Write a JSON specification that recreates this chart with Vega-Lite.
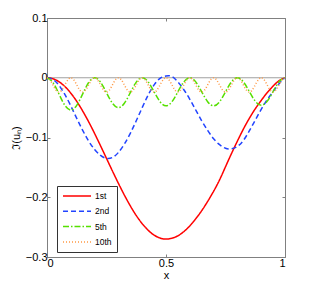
{
 "$schema": "https://vega.github.io/schema/vega-lite/v6.json",
 "width": 238, "height": 239,
 "autosize": {"type": "none"},
 "padding": {"left": 47, "top": 18, "right": 29, "bottom": 29},
 "config": {
  "view": {"stroke": "#808080", "strokeWidth": 1},
  "font": "Liberation Sans",
  "axis": {"domain": false, "grid": false, "tickColor": "#808080", "labelFont": "Liberation Sans", "labelFontSize": 11, "labelColor": "#000", "titleFont": "Liberation Sans", "titleFontSize": 11, "titleFontWeight": "normal", "titleColor": "#000"},
  "legend": {"orient": "none", "legendX": 10, "legendY": 168, "padding": 5, "strokeColor": "#333", "fillColor": "#fff", "symbolType": "M-3.5,0H3.5", "symbolSize": 64, "symbolStrokeWidth": 1.5, "symbolOffset": 10, "labelOffset": 13, "labelFont": "Liberation Sans", "labelFontSize": 8.5, "labelColor": "#000", "rowPadding": 5.3}
 },
 "datasets": {
  "zero": [{"x0": 0, "x1": 1, "y": 0}],
  "curves": [
   {"mode":"1st","x":0,"y":0},{"mode":"1st","x":0.025,"y":-0.0017},{"mode":"1st","x":0.05,"y":-0.0066},{"mode":"1st","x":0.075,"y":-0.0147},{"mode":"1st","x":0.1,"y":-0.0258},{"mode":"1st","x":0.125,"y":-0.0395},{"mode":"1st","x":0.15,"y":-0.0557},{"mode":"1st","x":0.175,"y":-0.0737},{"mode":"1st","x":0.2,"y":-0.0933},{"mode":"1st","x":0.225,"y":-0.1139},{"mode":"1st","x":0.25,"y":-0.135},{"mode":"1st","x":0.275,"y":-0.1561},{"mode":"1st","x":0.3,"y":-0.1767},{"mode":"1st","x":0.325,"y":-0.1963},{"mode":"1st","x":0.35,"y":-0.2144},{"mode":"1st","x":0.375,"y":-0.2305},{"mode":"1st","x":0.4,"y":-0.2442},{"mode":"1st","x":0.425,"y":-0.2553},{"mode":"1st","x":0.45,"y":-0.2634},{"mode":"1st","x":0.475,"y":-0.2683},{"mode":"1st","x":0.5,"y":-0.27},{"mode":"1st","x":0.525,"y":-0.2685},{"mode":"1st","x":0.55,"y":-0.2645},{"mode":"1st","x":0.575,"y":-0.2575},{"mode":"1st","x":0.6,"y":-0.248},{"mode":"1st","x":0.625,"y":-0.236},{"mode":"1st","x":0.65,"y":-0.2225},{"mode":"1st","x":0.675,"y":-0.207},{"mode":"1st","x":0.7,"y":-0.19},{"mode":"1st","x":0.725,"y":-0.171},{"mode":"1st","x":0.75,"y":-0.149},{"mode":"1st","x":0.775,"y":-0.127},{"mode":"1st","x":0.8,"y":-0.106},{"mode":"1st","x":0.825,"y":-0.086},{"mode":"1st","x":0.85,"y":-0.068},{"mode":"1st","x":0.875,"y":-0.052},{"mode":"1st","x":0.9,"y":-0.038},{"mode":"1st","x":0.925,"y":-0.025},{"mode":"1st","x":0.95,"y":-0.014},{"mode":"1st","x":0.975,"y":-0.005},{"mode":"1st","x":1,"y":0},
   {"mode":"2nd","x":0,"y":0},{"mode":"2nd","x":0.025,"y":-0.003},{"mode":"2nd","x":0.05,"y":-0.0125},{"mode":"2nd","x":0.075,"y":-0.028},{"mode":"2nd","x":0.1,"y":-0.047},{"mode":"2nd","x":0.125,"y":-0.068},{"mode":"2nd","x":0.15,"y":-0.088},{"mode":"2nd","x":0.175,"y":-0.106},{"mode":"2nd","x":0.2,"y":-0.12},{"mode":"2nd","x":0.225,"y":-0.13},{"mode":"2nd","x":0.25,"y":-0.135},{"mode":"2nd","x":0.275,"y":-0.1335},{"mode":"2nd","x":0.3,"y":-0.125},{"mode":"2nd","x":0.325,"y":-0.111},{"mode":"2nd","x":0.35,"y":-0.093},{"mode":"2nd","x":0.375,"y":-0.072},{"mode":"2nd","x":0.4,"y":-0.05},{"mode":"2nd","x":0.425,"y":-0.029},{"mode":"2nd","x":0.45,"y":-0.012},{"mode":"2nd","x":0.475,"y":-0.001},{"mode":"2nd","x":0.5,"y":0.003},{"mode":"2nd","x":0.525,"y":0.002},{"mode":"2nd","x":0.55,"y":-0.007},{"mode":"2nd","x":0.575,"y":-0.02},{"mode":"2nd","x":0.6,"y":-0.036},{"mode":"2nd","x":0.625,"y":-0.054},{"mode":"2nd","x":0.65,"y":-0.072},{"mode":"2nd","x":0.675,"y":-0.088},{"mode":"2nd","x":0.7,"y":-0.102},{"mode":"2nd","x":0.725,"y":-0.112},{"mode":"2nd","x":0.75,"y":-0.118},{"mode":"2nd","x":0.775,"y":-0.119},{"mode":"2nd","x":0.8,"y":-0.115},{"mode":"2nd","x":0.825,"y":-0.105},{"mode":"2nd","x":0.85,"y":-0.089},{"mode":"2nd","x":0.875,"y":-0.071},{"mode":"2nd","x":0.9,"y":-0.053},{"mode":"2nd","x":0.925,"y":-0.037},{"mode":"2nd","x":0.95,"y":-0.023},{"mode":"2nd","x":0.975,"y":-0.01},{"mode":"2nd","x":1,"y":0},
   {"mode":"5th","x":0,"y":0},{"mode":"5th","x":0.025,"y":-0.0079},{"mode":"5th","x":0.05,"y":-0.027},{"mode":"5th","x":0.075,"y":-0.0461},{"mode":"5th","x":0.1,"y":-0.054},{"mode":"5th","x":0.125,"y":-0.0461},{"mode":"5th","x":0.15,"y":-0.027},{"mode":"5th","x":0.175,"y":-0.0079},{"mode":"5th","x":0.2,"y":0},{"mode":"5th","x":0.225,"y":-0.0073},{"mode":"5th","x":0.25,"y":-0.025},{"mode":"5th","x":0.275,"y":-0.0427},{"mode":"5th","x":0.3,"y":-0.05},{"mode":"5th","x":0.325,"y":-0.0427},{"mode":"5th","x":0.35,"y":-0.025},{"mode":"5th","x":0.375,"y":-0.0073},{"mode":"5th","x":0.4,"y":0},{"mode":"5th","x":0.425,"y":-0.0069},{"mode":"5th","x":0.45,"y":-0.0235},{"mode":"5th","x":0.475,"y":-0.0401},{"mode":"5th","x":0.5,"y":-0.047},{"mode":"5th","x":0.525,"y":-0.0401},{"mode":"5th","x":0.55,"y":-0.0235},{"mode":"5th","x":0.575,"y":-0.0069},{"mode":"5th","x":0.6,"y":0},{"mode":"5th","x":0.625,"y":-0.0069},{"mode":"5th","x":0.65,"y":-0.0235},{"mode":"5th","x":0.675,"y":-0.0401},{"mode":"5th","x":0.7,"y":-0.047},{"mode":"5th","x":0.725,"y":-0.0401},{"mode":"5th","x":0.75,"y":-0.0235},{"mode":"5th","x":0.775,"y":-0.0069},{"mode":"5th","x":0.8,"y":0},{"mode":"5th","x":0.825,"y":-0.0067},{"mode":"5th","x":0.85,"y":-0.023},{"mode":"5th","x":0.875,"y":-0.0393},{"mode":"5th","x":0.9,"y":-0.046},{"mode":"5th","x":0.925,"y":-0.0393},{"mode":"5th","x":0.95,"y":-0.023},{"mode":"5th","x":0.975,"y":-0.0067},{"mode":"5th","x":1,"y":0},
   {"mode":"10th","x":0,"y":0},{"mode":"10th","x":0.01,"y":-0.0023},{"mode":"10th","x":0.02,"y":-0.0083},{"mode":"10th","x":0.03,"y":-0.0157},{"mode":"10th","x":0.04,"y":-0.0217},{"mode":"10th","x":0.05,"y":-0.024},{"mode":"10th","x":0.06,"y":-0.0217},{"mode":"10th","x":0.07,"y":-0.0157},{"mode":"10th","x":0.08,"y":-0.0083},{"mode":"10th","x":0.09,"y":-0.0023},
   {"mode":"10th","x":0.1,"y":0},{"mode":"10th","x":0.11,"y":-0.0023},{"mode":"10th","x":0.12,"y":-0.0083},{"mode":"10th","x":0.13,"y":-0.0157},{"mode":"10th","x":0.14,"y":-0.0217},{"mode":"10th","x":0.15,"y":-0.024},{"mode":"10th","x":0.16,"y":-0.0217},{"mode":"10th","x":0.17,"y":-0.0157},{"mode":"10th","x":0.18,"y":-0.0083},{"mode":"10th","x":0.19,"y":-0.0023},
   {"mode":"10th","x":0.2,"y":0},{"mode":"10th","x":0.21,"y":-0.0023},{"mode":"10th","x":0.22,"y":-0.0083},{"mode":"10th","x":0.23,"y":-0.0157},{"mode":"10th","x":0.24,"y":-0.0217},{"mode":"10th","x":0.25,"y":-0.024},{"mode":"10th","x":0.26,"y":-0.0217},{"mode":"10th","x":0.27,"y":-0.0157},{"mode":"10th","x":0.28,"y":-0.0083},{"mode":"10th","x":0.29,"y":-0.0023},
   {"mode":"10th","x":0.3,"y":0},{"mode":"10th","x":0.31,"y":-0.0023},{"mode":"10th","x":0.32,"y":-0.0083},{"mode":"10th","x":0.33,"y":-0.0157},{"mode":"10th","x":0.34,"y":-0.0217},{"mode":"10th","x":0.35,"y":-0.024},{"mode":"10th","x":0.36,"y":-0.0217},{"mode":"10th","x":0.37,"y":-0.0157},{"mode":"10th","x":0.38,"y":-0.0083},{"mode":"10th","x":0.39,"y":-0.0023},
   {"mode":"10th","x":0.4,"y":0},{"mode":"10th","x":0.41,"y":-0.0023},{"mode":"10th","x":0.42,"y":-0.0083},{"mode":"10th","x":0.43,"y":-0.0157},{"mode":"10th","x":0.44,"y":-0.0217},{"mode":"10th","x":0.45,"y":-0.024},{"mode":"10th","x":0.46,"y":-0.0217},{"mode":"10th","x":0.47,"y":-0.0157},{"mode":"10th","x":0.48,"y":-0.0083},{"mode":"10th","x":0.49,"y":-0.0023},
   {"mode":"10th","x":0.5,"y":0},{"mode":"10th","x":0.51,"y":-0.0023},{"mode":"10th","x":0.52,"y":-0.0083},{"mode":"10th","x":0.53,"y":-0.0157},{"mode":"10th","x":0.54,"y":-0.0217},{"mode":"10th","x":0.55,"y":-0.024},{"mode":"10th","x":0.56,"y":-0.0217},{"mode":"10th","x":0.57,"y":-0.0157},{"mode":"10th","x":0.58,"y":-0.0083},{"mode":"10th","x":0.59,"y":-0.0023},
   {"mode":"10th","x":0.6,"y":0},{"mode":"10th","x":0.61,"y":-0.0023},{"mode":"10th","x":0.62,"y":-0.0083},{"mode":"10th","x":0.63,"y":-0.0157},{"mode":"10th","x":0.64,"y":-0.0217},{"mode":"10th","x":0.65,"y":-0.024},{"mode":"10th","x":0.66,"y":-0.0217},{"mode":"10th","x":0.67,"y":-0.0157},{"mode":"10th","x":0.68,"y":-0.0083},{"mode":"10th","x":0.69,"y":-0.0023},
   {"mode":"10th","x":0.7,"y":0},{"mode":"10th","x":0.71,"y":-0.0023},{"mode":"10th","x":0.72,"y":-0.0083},{"mode":"10th","x":0.73,"y":-0.0157},{"mode":"10th","x":0.74,"y":-0.0217},{"mode":"10th","x":0.75,"y":-0.024},{"mode":"10th","x":0.76,"y":-0.0217},{"mode":"10th","x":0.77,"y":-0.0157},{"mode":"10th","x":0.78,"y":-0.0083},{"mode":"10th","x":0.79,"y":-0.0023},
   {"mode":"10th","x":0.8,"y":0},{"mode":"10th","x":0.81,"y":-0.0023},{"mode":"10th","x":0.82,"y":-0.0083},{"mode":"10th","x":0.83,"y":-0.0157},{"mode":"10th","x":0.84,"y":-0.0217},{"mode":"10th","x":0.85,"y":-0.024},{"mode":"10th","x":0.86,"y":-0.0217},{"mode":"10th","x":0.87,"y":-0.0157},{"mode":"10th","x":0.88,"y":-0.0083},{"mode":"10th","x":0.89,"y":-0.0023},
   {"mode":"10th","x":0.9,"y":0},{"mode":"10th","x":0.91,"y":-0.0023},{"mode":"10th","x":0.92,"y":-0.0083},{"mode":"10th","x":0.93,"y":-0.0157},{"mode":"10th","x":0.94,"y":-0.0217},{"mode":"10th","x":0.95,"y":-0.024},{"mode":"10th","x":0.96,"y":-0.0217},{"mode":"10th","x":0.97,"y":-0.0157},{"mode":"10th","x":0.98,"y":-0.0083},{"mode":"10th","x":0.99,"y":-0.0023},{"mode":"10th","x":1,"y":0}
  ]
 },
 "layer": [
  {
   "data": {"name": "zero"},
   "mark": {"type": "rule", "color": "#a0a0a0", "strokeWidth": 1},
   "encoding": {
    "x": {"field": "x0", "type": "quantitative", "scale": {"domain": [0, 1]}, "axis": {"orient": "top", "values": [0, 0.5, 1], "labels": false, "title": null, "tickSize": -3}},
    "x2": {"field": "x1"},
    "y": {"field": "y", "type": "quantitative", "scale": {"domain": [-0.3, 0.1]}, "axis": {"orient": "right", "values": [-0.3, -0.2, -0.1, 0, 0.1], "labels": false, "title": null, "tickSize": -3}}
   }
  },
  {
   "data": {"name": "curves"},
   "mark": {"type": "line", "strokeWidth": 1.5, "interpolate": "natural"},
   "encoding": {
    "x": {"field": "x", "type": "quantitative", "scale": {"domain": [0, 1]}, "axis": {"orient": "bottom", "values": [0, 0.5, 1], "format": "~g", "title": "x", "tickSize": -3, "labelPadding": 3, "titlePadding": 1}},
    "y": {"field": "y", "type": "quantitative", "scale": {"domain": [-0.3, 0.1]}, "axis": {"orient": "left", "values": [-0.3, -0.2, -0.1, 0, 0.1], "format": "~g", "title": "ℑ(uₙ)", "tickSize": -3, "labelPadding": 3, "titlePadding": 4}},
    "color": {"field": "mode", "type": "nominal", "sort": null, "scale": {"domain": ["1st", "2nd", "5th", "10th"], "range": ["#ff0000", "#2244ff", "#55e000", "#ff9944"]}, "legend": {"title": null}},
    "strokeDash": {"field": "mode", "type": "nominal", "sort": null, "scale": {"domain": ["1st", "2nd", "5th", "10th"], "range": [[1, 0], [5, 3], [6, 2, 1.5, 2], [1, 2]]}, "legend": {"title": null}},
    "order": {"field": "x", "type": "quantitative"}
   }
  }
 ]
}
